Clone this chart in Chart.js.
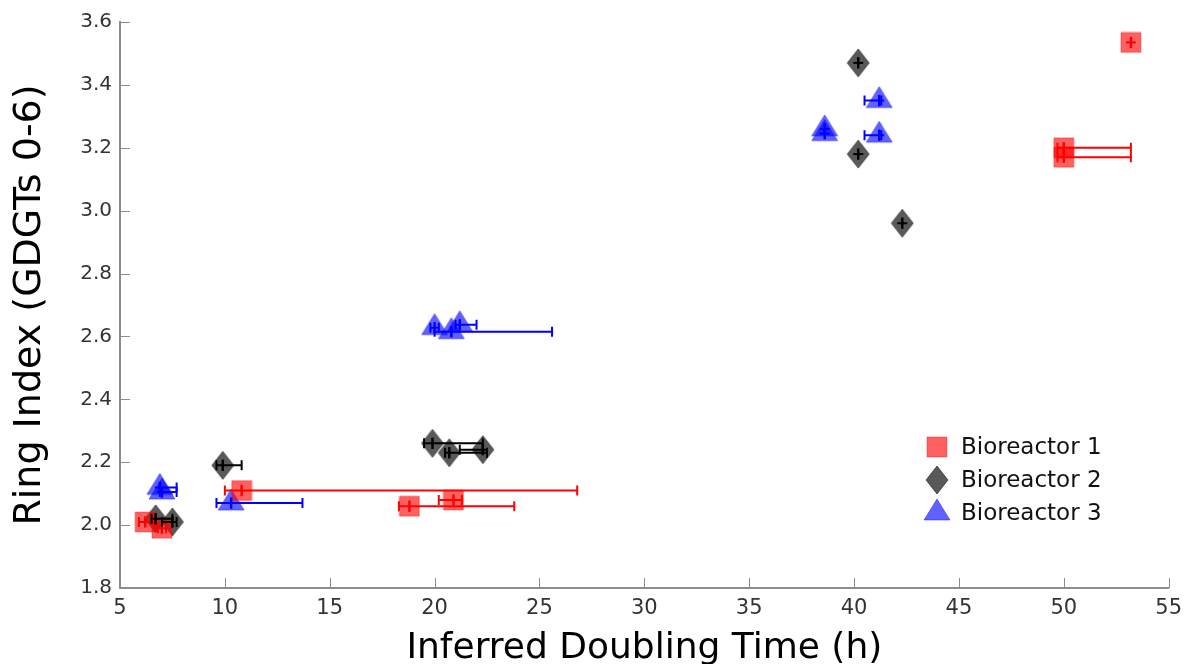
<!DOCTYPE html>
<html>
<head>
<meta charset="utf-8">
<script src="https://cdn.jsdelivr.net/npm/chart.js@4.4.0/dist/chart.umd.min.js"></script>
<style>
  html, body { margin: 0; padding: 0; background: #fff; }
  #wrap { width: 1190px; height: 664px; }
</style>
</head>
<body>
<div id="wrap"><canvas id="ringChart" width="1190" height="664"></canvas></div>
<script>
  // data
  const seriesNames = ['Bioreactor 1', 'Bioreactor 2', 'Bioreactor 3'];

  const b1X   = [6.2, 7.0, 10.8, 18.8, 20.9, 50.0, 50.0, 53.2];
  const b1Y   = [2.01, 1.99, 2.11, 2.06, 2.08, 3.20, 3.17, 3.535];
  const b1XLo = [5.9, 6.8, 10.0, 18.3, 20.2, 49.7, 49.7, 53.1];
  const b1XHi = [6.7, 7.2, 26.8, 23.8, 21.3, 53.2, 53.2, 53.3];

  const b2X   = [6.7, 7.5, 9.9, 19.9, 20.7, 22.3, 40.2, 40.2, 42.3];
  const b2Y   = [2.02, 2.01, 2.19, 2.26, 2.23, 2.24, 3.47, 3.18, 2.96];
  const b2XLo = [6.5, 7.0, 9.6, 19.5, 20.5, 21.2, 40.1, 40.1, 42.2];
  const b2XHi = [7.5, 7.7, 10.8, 22.3, 22.5, 22.3, 40.3, 40.3, 42.4];

  const b3X   = [6.9, 7.0, 10.3, 20.0, 20.8, 21.2, 38.6, 38.6, 41.2, 41.2];
  const b3Y   = [2.12, 2.105, 2.07, 2.628, 2.615, 2.637, 3.26, 3.245, 3.35, 3.24];
  const b3XLo = [6.9, 6.9, 9.6, 19.8, 20.0, 21.0, 38.5, 38.5, 40.5, 40.5];
  const b3XHi = [7.7, 7.7, 13.7, 20.2, 25.6, 22.0, 38.7, 38.7, 41.3, 41.3];

  const yErr = 0.018;

  const xTicks = [5, 10, 15, 20, 25, 30, 35, 40, 45, 50, 55];
  const yTicks = [1.8, 2.0, 2.2, 2.4, 2.6, 2.8, 3.0, 3.2, 3.4, 3.6];

  function toPoints(xs, ys) {
    return xs.map(function (x, i) { return { x: x, y: ys[i] }; });
  }

  // marker images
  function makeMarker(shape, fill, edge) {
    const c = document.createElement('canvas');
    let w = 22, h = 22;
    if (shape === 'diamond') { w = 24; h = 30; }
    if (shape === 'triangle') { w = 28; h = 30; }
    c.width = w; c.height = h;
    const g = c.getContext('2d');
    g.beginPath();
    if (shape === 'square') {
      g.rect(1, 1, 20, 20);
    } else if (shape === 'diamond') {
      g.moveTo(12, 1); g.lineTo(23, 15); g.lineTo(12, 29); g.lineTo(1, 15); g.closePath();
    } else {
      g.moveTo(14, 1); g.lineTo(27, 22); g.lineTo(1, 22); g.closePath();
    }
    g.fillStyle = fill;
    g.fill();
    g.lineWidth = 1;
    g.strokeStyle = edge;
    g.stroke();
    return c;
  }

  const squareImg = makeMarker('square', 'rgba(255,0,0,0.62)', 'rgba(255,0,0,0.35)');
  const diamondImg = makeMarker('diamond', 'rgba(0,0,0,0.65)', 'rgba(0,0,0,0.5)');
  const triangleImg = makeMarker('triangle', 'rgba(0,0,255,0.62)', 'rgba(0,0,255,0.4)');

  // error bars, drawn on top of the markers
  const errorBars = {
    id: 'errorBars',
    afterDatasetsDraw(chart) {
      const ctx = chart.ctx;
      const xs = chart.scales.x, ys = chart.scales.y;
      chart.data.datasets.forEach(function (ds) {
        ctx.save();
        ctx.strokeStyle = ds.barColor;
        ds.data.forEach(function (p, i) {
          const px = xs.getPixelForValue(p.x);
          const py = ys.getPixelForValue(p.y);
          const lo = xs.getPixelForValue(ds.xLo[i]);
          const hi = xs.getPixelForValue(ds.xHi[i]);
          const yt = ys.getPixelForValue(p.y + yErr);
          const yb = ys.getPixelForValue(p.y - yErr);
          ctx.lineWidth = 2;
          ctx.beginPath();
          ctx.moveTo(Math.min(lo, px - 5), py); ctx.lineTo(Math.max(hi, px + 5), py);
          if (hi - lo > 6) {
            ctx.moveTo(lo, py - 5); ctx.lineTo(lo, py + 5);
            ctx.moveTo(hi, py - 5); ctx.lineTo(hi, py + 5);
          }
          ctx.stroke();
          ctx.lineWidth = 2.5;
          ctx.beginPath();
          ctx.moveTo(px, yt); ctx.lineTo(px, yb);
          ctx.stroke();
        });
        ctx.restore();
      });
    }
  };

  // tick marks pointing into the plot, plus the legend box inside the plot
  const innerTicks = {
    id: 'innerTicks',
    afterDraw(chart) {
      const ctx = chart.ctx;
      const area = chart.chartArea;
      const xs = chart.scales.x, ys = chart.scales.y;
      ctx.save();
      ctx.strokeStyle = '#8c8c8c';
      ctx.lineWidth = 1;
      ctx.beginPath();
      xTicks.forEach(function (v) {
        const px = Math.round(xs.getPixelForValue(v)) + 0.5;
        ctx.moveTo(px, area.bottom); ctx.lineTo(px, area.bottom - 10);
      });
      yTicks.forEach(function (v) {
        const py = Math.round(ys.getPixelForValue(v)) + 0.5;
        ctx.moveTo(area.left, py); ctx.lineTo(area.left + 10, py);
      });
      ctx.stroke();

      // legend
      ctx.font = '23px "DejaVu Sans"';
      ctx.fillStyle = '#111';
      ctx.textBaseline = 'middle';
      const rows = [447, 480, 513];
      chart.data.datasets.forEach(function (ds, i) {
        const img = ds.pointStyle;
        ctx.drawImage(img, 937 - img.width / 2, rows[i] - img.height / 2);
        ctx.fillText(ds.label, 961, rows[i] + 1);
      });
      ctx.restore();
    }
  };

  const ctx = document.getElementById('ringChart');
  const ringChart = new Chart(ctx, {
    type: 'scatter',
    data: {
      datasets: [{
        label: seriesNames[0],
        data: toPoints(b1X, b1Y),
        xLo: b1XLo, xHi: b1XHi,
        barColor: '#ff0000',
        pointStyle: squareImg,
      }, {
        label: seriesNames[1],
        data: toPoints(b2X, b2Y),
        xLo: b2XLo, xHi: b2XHi,
        barColor: '#000000',
        pointStyle: diamondImg,
      }, {
        label: seriesNames[2],
        data: toPoints(b3X, b3Y),
        xLo: b3XLo, xHi: b3XHi,
        barColor: '#0000ff',
        pointStyle: triangleImg,
      }]
    },
    options: {
      responsive: false,
      animation: false,
      layout: { padding: { top: 22, right: 20, left: 0, bottom: 0 } },
      plugins: {
        legend: { display: false },
        tooltip: { enabled: false }
      },
      scales: {
        x: {
          type: 'linear',
          min: 5, max: 55,
          afterBuildTicks: function (s) { s.ticks = xTicks.map(function (v) { return { value: v }; }); },
          afterFit: function (s) { s.height = 76; },
          grid: { drawOnChartArea: false, drawTicks: false },
          border: { display: true, color: '#8c8c8c', width: 2 },
          ticks: {
            padding: 8,
            color: '#333',
            font: { family: '"DejaVu Sans"', size: 21 },
            maxRotation: 0
          },
          title: {
            display: true,
            text: 'Inferred Doubling Time (h)',
            color: '#000',
            font: { family: '"DejaVu Sans"', size: 36, lineHeight: 1.2 },
            padding: { top: 0, bottom: -6 }
          }
        },
        y: {
          type: 'linear',
          min: 1.8, max: 3.6,
          afterBuildTicks: function (s) { s.ticks = yTicks.map(function (v) { return { value: v }; }); },
          afterFit: function (s) { s.width = 120; },
          grid: { drawOnChartArea: false, drawTicks: false },
          border: { display: true, color: '#8c8c8c', width: 2 },
          ticks: {
            padding: 8,
            color: '#333',
            font: { family: '"DejaVu Sans"', size: 20 },
            callback: function (v) { return Number(v).toFixed(1); }
          },
          title: {
            display: true,
            text: 'Ring Index (GDGTs 0-6)',
            color: '#000',
            font: { family: '"DejaVu Sans"', size: 38, lineHeight: 1.2 },
            padding: { top: 7, bottom: 0 }
          }
        }
      }
    },
    plugins: [errorBars, innerTicks]
  });
</script>
</body>
</html>
